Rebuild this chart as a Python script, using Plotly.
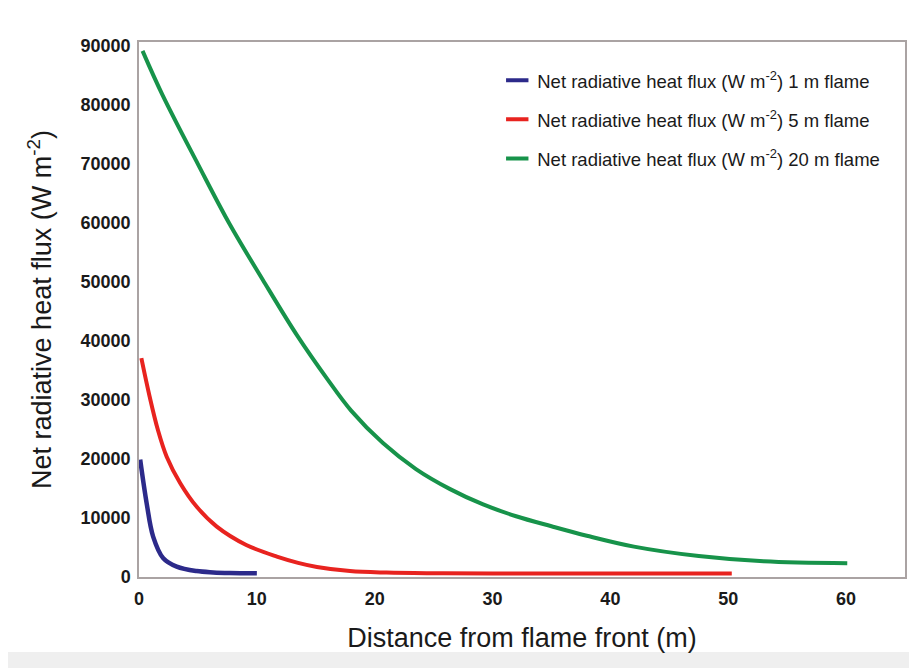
import plotly.graph_objects as go

# Data
blue_x = [0.1, 0.65, 1.2, 2.06, 3.2, 4.9, 6.3, 7.7, 10.0]
blue_y = [19900, 12500, 6850, 3170, 1750, 1000, 780, 680, 620]

red_x = [0.2, 0.9, 1.6, 2.35, 3.5, 4.9, 6.6, 9.1, 11.7, 13.5, 15.1, 17.9, 21, 25, 30, 40, 50.3]
red_y = [37100, 30600, 24960, 20400, 15900, 11900, 8540, 5430, 3450, 2400, 1700, 1000, 750, 640, 600, 600, 600]

green_x = [0.3, 2.0, 5.0, 7.7, 10.5, 13.4, 16.0, 18.0, 20.7, 23.5, 26.4, 29.2, 32.0, 35.0,
           38.0, 42.0, 47.5, 53.0, 60.1]
green_y = [89200, 81700, 70000, 59800, 50400, 41000, 33500, 28200, 22700, 18300, 14900, 12300,
           10300, 8600, 7000, 5150, 3550, 2650, 2320]

series_names = [
    "Net radiative heat flux (W m<sup>-2</sup>) 1 m flame",
    "Net radiative heat flux (W m<sup>-2</sup>) 5 m flame",
    "Net radiative heat flux (W m<sup>-2</sup>) 20 m flame",
]
colors = ["#2c2a8a", "#e8231f", "#17934a"]

x_ticks = [0, 10, 20, 30, 40, 50, 60]
y_ticks = [0, 10000, 20000, 30000, 40000, 50000, 60000, 70000, 80000, 90000]

FONT = "Arial, 'Liberation Sans', sans-serif"

fig = go.Figure()
for xs, ys, col, w in [
    (blue_x, blue_y, colors[0], 4.5),
    (red_x, red_y, colors[1], 4),
    (green_x, green_y, colors[2], 4),
]:
    fig.add_trace(go.Scatter(x=xs, y=ys, mode="lines",
                             line=dict(color=col, width=w, shape="spline", smoothing=1.0),
                             showlegend=False, hoverinfo="skip"))

# legend-only entries with short dash symbols
for i, (name, col) in enumerate(zip(series_names, colors)):
    fig.add_trace(go.Scatter(x=[None], y=[None], mode="markers", name=name,
                             legendgroup=f"g{i}",
                             marker=dict(symbol="line-ew", size=18, color=col,
                                         line=dict(color=col, width=4))))

# page body has an 8px margin, so margins are shifted to keep the plot box in place
fig.update_layout(
    width=917, height=668,
    margin=dict(l=131, r=20, t=34, b=99),
    paper_bgcolor="#efefef",
    plot_bgcolor="rgba(0,0,0,0)",
    font=dict(family=FONT, color="#1a1a1a"),
    showlegend=True,
    legend=dict(x=0.4677, y=0.963, xanchor="left", yanchor="top",
                bgcolor="rgba(0,0,0,0)", font=dict(size=18.5, family=FONT, color="#1a1a1a"),
                tracegroupgap=12, itemwidth=30),
    shapes=[dict(type="rect", xref="paper", yref="paper", x0=-0.175, x1=1.009, y0=-0.14, y1=1.069,
                 fillcolor="white", line=dict(width=0), layer="below")],
    xaxis=dict(range=[0, 65], tickvals=x_ticks, ticktext=[str(v) for v in x_ticks],
               showgrid=False, zeroline=False, showline=True, mirror=True,
               linecolor="#aaa3a3", linewidth=1.5, ticks="",
               tickfont=dict(size=18, family=FONT, color="#1a1a1a", weight="bold"),
               ticklabelstandoff=5,
               title=dict(text="Distance from flame front (m)", font=dict(size=27, family=FONT, color="#1a1a1a"),
                          standoff=20)),
    yaxis=dict(range=[0, 90700], tickvals=y_ticks, ticktext=[str(v) for v in y_ticks],
               showgrid=False, zeroline=False, showline=True, mirror=True,
               linecolor="#aaa3a3", linewidth=1.5, ticks="",
               tickfont=dict(size=18, family=FONT, color="#1a1a1a", weight="bold"),
               ticklabelstandoff=3,
               title=dict(text="Net radiative heat flux (W m<sup>-2</sup>)",
                          font=dict(size=27, family=FONT, color="#1a1a1a"), standoff=21)),
)

fig.write_html("out.html")
